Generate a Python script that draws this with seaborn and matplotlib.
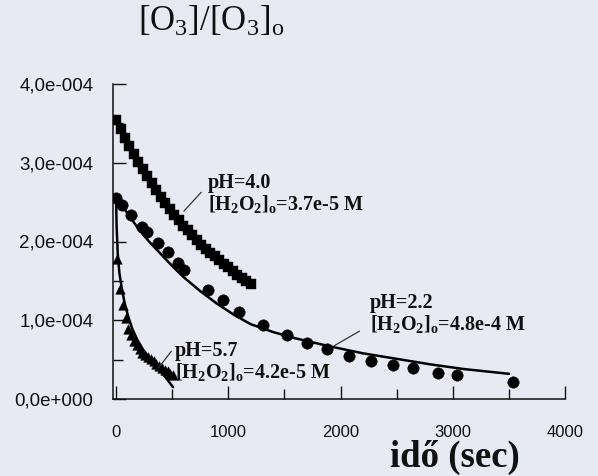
import numpy as np
import pandas as pd
import matplotlib
matplotlib.use("Agg")
import matplotlib.pyplot as plt
import seaborn as sns
from matplotlib.ticker import FixedLocator, FixedFormatter, MultipleLocator

# ---------------- data (concentration of O3, M; time, s) ----------------
# pH=4.0 (squares)
sq_t = [0, 40, 80, 120, 160, 200, 240, 280, 320, 360, 400, 440, 480, 520, 560, 600,
        640, 680, 720, 760, 800, 840, 880, 920, 960, 1000, 1040, 1080, 1120, 1160, 1200]
sq_y = [3.54e-4, 3.43e-4, 3.32e-4, 3.21e-4, 3.11e-4, 3.01e-4, 2.92e-4, 2.83e-4, 2.74e-4,
        2.65e-4, 2.57e-4, 2.49e-4, 2.41e-4, 2.34e-4, 2.27e-4, 2.20e-4, 2.14e-4, 2.08e-4,
        2.02e-4, 1.96e-4, 1.91e-4, 1.86e-4, 1.81e-4, 1.76e-4, 1.71e-4, 1.67e-4, 1.62e-4,
        1.58e-4, 1.54e-4, 1.50e-4, 1.46e-4]

# pH=2.2 (circles) and its fitted curve
ci_t = [0, 50, 130, 230, 280, 370, 460, 550, 610, 820, 950, 1100, 1310, 1520, 1700,
        1880, 2080, 2270, 2470, 2650, 2870, 3040, 3540]
ci_y = [2.55e-4, 2.46e-4, 2.34e-4, 2.18e-4, 2.12e-4, 1.98e-4, 1.87e-4, 1.73e-4, 1.64e-4,
        1.38e-4, 1.26e-4, 1.10e-4, 0.94e-4, 0.81e-4, 0.71e-4, 0.63e-4, 0.55e-4, 0.48e-4,
        0.43e-4, 0.39e-4, 0.33e-4, 0.30e-4, 0.22e-4]
cf_t = [0, 100, 200, 300, 400, 500, 600, 750, 900, 1050, 1200, 1400, 1600, 1900, 2200,
        2500, 2800, 3100, 3500]
cf_y = [2.57e-4, 2.36e-4, 2.16e-4, 1.99e-4, 1.84e-4, 1.69e-4, 1.55e-4, 1.37e-4, 1.21e-4,
        1.07e-4, 0.95e-4, 0.85e-4, 0.77e-4, 0.67e-4, 0.58e-4, 0.51e-4, 0.44e-4, 0.38e-4,
        0.32e-4]

# pH=5.7 (triangles) and its fitted curve
tr_t = [10, 35, 60, 85, 110, 135, 160, 185, 210, 235, 260, 285, 310, 335, 360, 385,
        410, 435, 460, 485, 510]
tr_y = [1.78e-4, 1.40e-4, 1.19e-4, 1.03e-4, 0.89e-4, 0.81e-4, 0.74e-4, 0.68e-4, 0.63e-4,
        0.59e-4, 0.56e-4, 0.53e-4, 0.51e-4, 0.48e-4, 0.45e-4, 0.42e-4, 0.40e-4, 0.37e-4,
        0.35e-4, 0.32e-4, 0.30e-4]
tf_t = [0, 5, 15, 30, 55, 80, 110, 145, 190, 240, 300, 350, 400, 450, 508]
tf_y = [2.57e-4, 2.20e-4, 1.85e-4, 1.60e-4, 1.37e-4, 1.20e-4, 1.04e-4, 0.89e-4, 0.75e-4,
        0.63e-4, 0.51e-4, 0.44e-4, 0.35e-4, 0.26e-4, 0.15e-4]

x_ticks = [0, 1000, 2000, 3000, 4000]
x_tick_labels = ["0", "1000", "2000", "3000", "4000"]
y_ticks = [0.0, 1e-4, 2e-4, 3e-4, 4e-4]
y_tick_labels = ["0,0e+000", "1,0e-004", "2,0e-004", "3,0e-004", "4,0e-004"]

# ---------------- style ----------------
BG = "#e7eaf3"
sns.set_style("ticks")
plt.rcParams["font.family"] = ["Liberation Sans", "DejaVu Sans"]
plt.rcParams["mathtext.fontset"] = "custom"
plt.rcParams["mathtext.rm"] = "Liberation Serif"
plt.rcParams["mathtext.it"] = "Liberation Serif:italic"
plt.rcParams["mathtext.bf"] = "Liberation Serif:bold"

fig = plt.figure(figsize=(5.98, 4.76), dpi=100, facecolor=BG)
ax = fig.add_axes([113 / 598, 1 - 399 / 476, 452 / 598, (399 - 84) / 476])
ax.set_facecolor(BG)

sq = pd.DataFrame({"t": sq_t, "c": sq_y})
ci = pd.DataFrame({"t": ci_t, "c": ci_y})
cf = pd.DataFrame({"t": cf_t, "c": cf_y})
tr = pd.DataFrame({"t": tr_t, "c": tr_y})
tf = pd.DataFrame({"t": tf_t, "c": tf_y})

sns.lineplot(data=cf, x="t", y="c", color="black", lw=1.8, estimator=None, ax=ax)
sns.lineplot(data=tf, x="t", y="c", color="black", lw=1.8, estimator=None, ax=ax)
sns.scatterplot(data=sq, x="t", y="c", marker="s", s=60, color="black",
                edgecolor="black", linewidth=0.3, ax=ax, zorder=3)
sns.scatterplot(data=ci, x="t", y="c", marker="o", s=68, color="black",
                edgecolor="black", linewidth=0.3, ax=ax, zorder=3)
sns.scatterplot(data=tr, x="t", y="c", marker="^", s=48, color="black",
                edgecolor="black", linewidth=0.3, ax=ax, zorder=3)

ax.set_xlim(-27, 4000)
ax.set_ylim(0, 4e-4)
ax.set_xlabel("")
ax.set_ylabel("")

for s in ["top", "right"]:
    ax.spines[s].set_visible(False)
for s in ["left", "bottom"]:
    ax.spines[s].set_linewidth(1.1)
    ax.spines[s].set_color("#111111")

ax.xaxis.set_major_locator(FixedLocator(x_ticks))
ax.xaxis.set_major_formatter(FixedFormatter(x_tick_labels))
ax.xaxis.set_minor_locator(MultipleLocator(500))
ax.yaxis.set_major_locator(FixedLocator(y_ticks))
ax.yaxis.set_major_formatter(FixedFormatter(y_tick_labels))
ax.yaxis.set_minor_locator(MultipleLocator(0.5e-4))

ax.tick_params(axis="both", which="major", direction="in", length=9.5, width=1.0,
               color="#111111")
ax.tick_params(axis="both", which="minor", direction="in", length=7, width=1.0,
               color="#111111")
ax.tick_params(axis="x", which="major", pad=19, labelsize=12)
ax.tick_params(axis="y", which="major", pad=14, labelsize=13.5)
for lab in ax.get_xticklabels() + ax.get_yticklabels():
    lab.set_color("#111111")

# ---------------- annotations ----------------
afont = dict(family="Liberation Serif", weight="bold", size=14.5, color="#111111",
             va="top", ha="left", linespacing=1.02)
sub = r"[H$_\mathbf{2}$O$_\mathbf{2}$]$_\mathbf{o}$"
ax.text(819, 2.87e-4, "pH=4.0\n" + sub + "=3.7e-5 M", **afont)
ax.text(2263, 1.345e-4, "pH=2.2\n" + sub + "=4.8e-4 M", **afont)
ax.text(525, 0.735e-4, "pH=5.7\n" + sub + "=4.2e-5 M", **afont)

lead = dict(arrowstyle="-", color="#333333", lw=0.9)
ax.annotate("", xy=(588, 2.36e-4), xytext=(775, 2.65e-4), arrowprops=lead)
ax.annotate("", xy=(1924, 0.66e-4), xytext=(2191, 0.88e-4), arrowprops=lead)
ax.annotate("", xy=(365, 0.37e-4), xytext=(508, 0.635e-4), arrowprops=lead)

fig.text(138 / 598, 1 - 31 / 476, r"[O$_3$]/[O$_3$]$_\mathrm{o}$",
         family="Liberation Serif", size=25, color="#111111", va="baseline", ha="left")
fig.text(455 / 598, 1 - 467 / 476, "idő (sec)", family="Liberation Serif",
         weight="bold", size=26.5, color="#111111", va="baseline", ha="center")

fig.savefig("out.png", dpi=100, facecolor=BG)
